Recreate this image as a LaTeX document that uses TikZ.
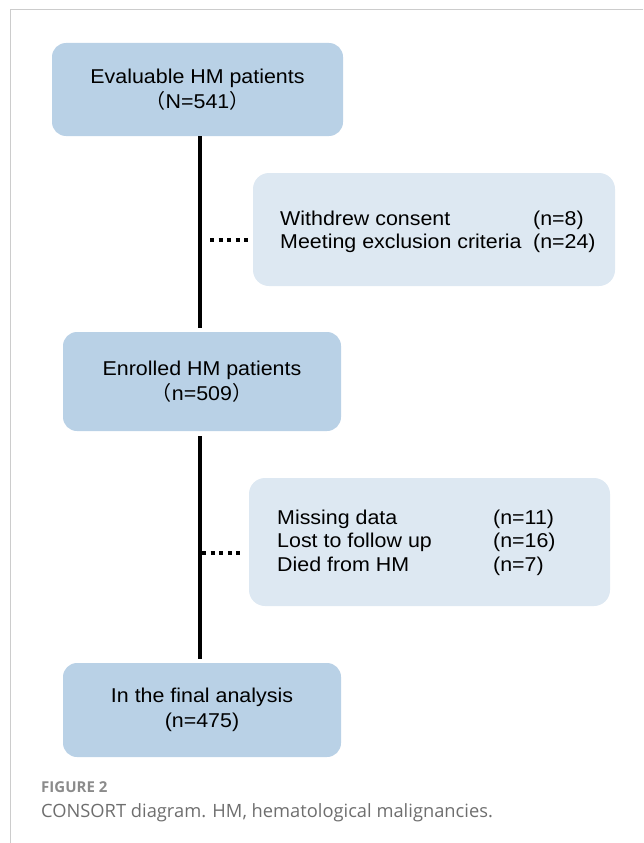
\documentclass[tikz,border=0pt]{standalone}
\usepackage{fontspec}
\setmainfont{Liberation Sans}[FakeStretch=1.07]
\newfontfamily\cjk{Noto Sans CJK SC}
\newfontfamily\capfont{Open Sans}
\usetikzlibrary{positioning, calc}
\definecolor{boxblue}{RGB}{185,209,230}
\definecolor{paleblue}{RGB}{221,232,242}
\definecolor{framegray}{RGB}{204,204,204}
\definecolor{capgray}{RGB}{110,110,110}
\tikzset{
  stagebox/.style={rectangle, rounded corners=14pt, fill=boxblue, align=center, inner sep=0pt, font=\fontsize{20}{24.5}\selectfont},
  exclbox/.style={rectangle, rounded corners=16pt, fill=paleblue, inner sep=0pt},
  listtext/.style={anchor=base west, inner sep=0pt, font=\fontsize{20}{23.5}\selectfont},
  flowline/.style={line width=3.5pt},
  dotline/.style={line width=4pt, dash pattern=on 4pt off 4.6pt},
}

\begin{document}
\begin{tikzpicture}[x=1pt,y=-1pt]
\useasboundingbox (0,0) rectangle (643,843);
\draw[framegray, line width=1.2pt] (643,9.5) -- (10.5,9.5) -- (10.5,843);

\node[stagebox, minimum width=291pt, minimum height=93pt] (eval) at (197.5,89.5) {Evaluable HM patients\\{\cjk （}N=541{\cjk ）}};
\node[exclbox, minimum width=362pt, minimum height=113pt] (excla) at (434,229.5) {};
\node[stagebox, minimum width=278pt, minimum height=99pt] (enrol) at (202,381.5) {Enrolled HM patients\\{\cjk （}n=509{\cjk ）}};
\node[exclbox, minimum width=361pt, minimum height=128pt] (exclb) at (429.5,542) {};
\node[stagebox, minimum width=278pt, minimum height=94pt] (final) at (202,710) {In the final analysis\\(n=475)};

% exclusion lists
\node[listtext] (lista) at (280,225) {\begin{tabular}[t]{@{}p{253pt}@{}l@{}}Withdrew consent & (n=8)\\Meeting exclusion criteria & (n=24)\end{tabular}};
\node[listtext] (listb) at (277,524) {\begin{tabular}[t]{@{}p{216pt}@{}l@{}}Missing data & (n=11)\\Lost to follow up & (n=16)\\Died from HM & (n=7)\end{tabular}};

\coordinate (ja) at (200,240);
\coordinate (jb) at (200,553);
\draw[flowline, shorten >=4pt] (eval.south -| ja) -- (enrol.north -| ja);
\draw[flowline, shorten <=5pt, shorten >=4pt] (enrol.south -| ja) -- (final.north -| ja);
\draw[dotline, shorten <=10pt, shorten >=5pt] (ja) -- (ja -| excla.west);
\draw[dotline, shorten <=2pt, shorten >=9pt] (jb) -- (jb -| exclb.west);

% caption
\node[anchor=base west, inner sep=0pt, font=\capfont\bfseries\fontsize{15}{17}\selectfont, text=capgray!80] (figlabel) at (41,792) {FIGURE 2};
\node[anchor=base west, inner sep=0pt, font=\capfont\fontsize{18.3}{20}\selectfont, text=capgray] (figcaption) at (41,817) {CONSORT diagram. HM, hematological malignancies.};
\end{tikzpicture}
\end{document}
